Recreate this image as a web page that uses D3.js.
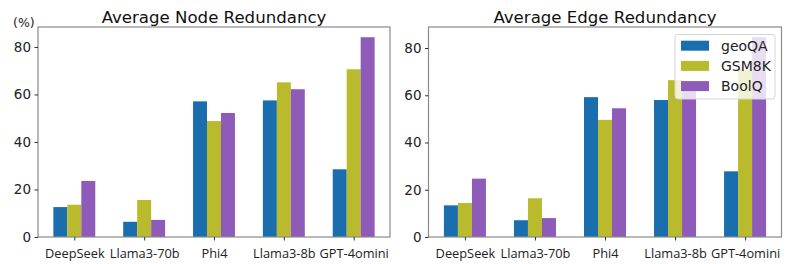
<!DOCTYPE html>
<html><head><meta charset="utf-8">
<script src="https://cdn.jsdelivr.net/npm/d3@7"></script>
<style>body{margin:0;background:#fff}</style>
</head><body>
<svg id="c" width="797" height="264"></svg>
<script>
const categories = ["DeepSeek","Llama3-70b","Phi4","Llama3-8b","GPT-4omini"];
const seriesNames = ["geoQA","GSM8K","BoolQ"];
const colors = ["#1a6ead","#b9ba2c","#8f5bb8"];
const nodeGeoQA = [12.6, 6.4, 57.1, 57.5, 28.5];
const nodeGSM8K = [13.6, 15.6, 48.8, 65.1, 70.6];
const nodeBoolQ = [23.6, 7.2, 52.2, 62.2, 84.1];
const edgeGeoQA = [13.4, 7.1, 59.2, 58.0, 27.8];
const edgeGSM8K = [14.4, 16.4, 49.6, 66.4, 71.0];
const edgeBoolQ = [24.7, 8.0, 54.5, 61.8, 84.6];
const yTicks = [0,20,40,60,80];
const titles = ["Average Node Redundancy","Average Edge Redundancy"];

const svg = d3.select("#c");
const panels = [
  {x0:38, x1:390, yMax:88.4, data:[nodeGeoQA,nodeGSM8K,nodeBoolQ], title:titles[0], unit:true, legend:false},
  {x0:428.5, x1:781.5, yMax:88.9, data:[edgeGeoQA,edgeGSM8K,edgeBoolQ], title:titles[1], unit:false, legend:true}
];
const plotTop = 27, plotBottom = 237;
const bw = 0.2;

panels.forEach(p => {
  const g = svg.append("g");
  const x = d3.scaleLinear().domain([-0.52, 4.52]).range([p.x0, p.x1]);
  const y = d3.scaleLinear().domain([0, p.yMax]).range([plotBottom, plotTop]);

  p.data.forEach((vals, si) => {
    g.selectAll(null).data(vals).enter().append("rect")
      .attr("x", (d,i) => x(i + (si-1)*bw - bw/2))
      .attr("width", x(bw) - x(0))
      .attr("y", d => y(d))
      .attr("height", d => y(0) - y(d))
      .attr("fill", colors[si]);
  });

  g.append("rect").attr("x", p.x0).attr("y", plotTop).attr("width", p.x1-p.x0).attr("height", plotBottom-plotTop)
    .attr("fill","none").attr("stroke","#8a8a8a").attr("stroke-width",1.2);

  const ya = g.append("g").attr("transform",`translate(${p.x0},0)`)
    .call(d3.axisLeft(y).tickValues(yTicks).tickSize(3.5).tickPadding(3.5));
  ya.select(".domain").remove();
  ya.selectAll("line").attr("stroke","#333");
  ya.selectAll("text").attr("font-family","DejaVu Sans").attr("font-size",13.5).attr("fill","#222");

  const xa = g.append("g").attr("transform",`translate(0,${plotBottom})`)
    .call(d3.axisBottom(x).tickValues(d3.range(categories.length)).tickFormat(i => categories[i]).tickSize(3.5).tickPadding(8.5));
  xa.select(".domain").remove();
  xa.selectAll("line").attr("stroke","#333");
  xa.selectAll("text").attr("font-family","Open Sans").attr("font-size",12.8).attr("fill","#222");

  g.append("text").attr("x",(p.x0+p.x1)/2).attr("y",23).attr("text-anchor","middle")
    .attr("font-family","DejaVu Sans").attr("font-size",16.6).attr("fill","#111").text(p.title);

  if (p.unit) {
    g.append("text").attr("x",13).attr("y",27).attr("font-family","DejaVu Sans").attr("font-size",12.5)
      .attr("fill","#222").text("(%)");
  }

  if (p.legend) {
    const lg = g.append("g");
    lg.append("rect").attr("x",675).attr("y",34.5).attr("width",100).attr("height",64.5).attr("rx",3)
      .attr("fill","white").attr("fill-opacity",0.8).attr("stroke","#d5d5d5").attr("stroke-width",1);
    seriesNames.forEach((n,i) => {
      const cy = 45.7 + i*20.2;
      lg.append("rect").attr("x",681).attr("y",cy-5).attr("width",28).attr("height",10).attr("fill",colors[i]);
      lg.append("text").attr("x",721).attr("y",cy).attr("dy","0.36em").attr("font-family","DejaVu Sans")
        .attr("font-size",14).attr("fill","#222").text(n);
    });
  }
});
</script>
</body></html>
